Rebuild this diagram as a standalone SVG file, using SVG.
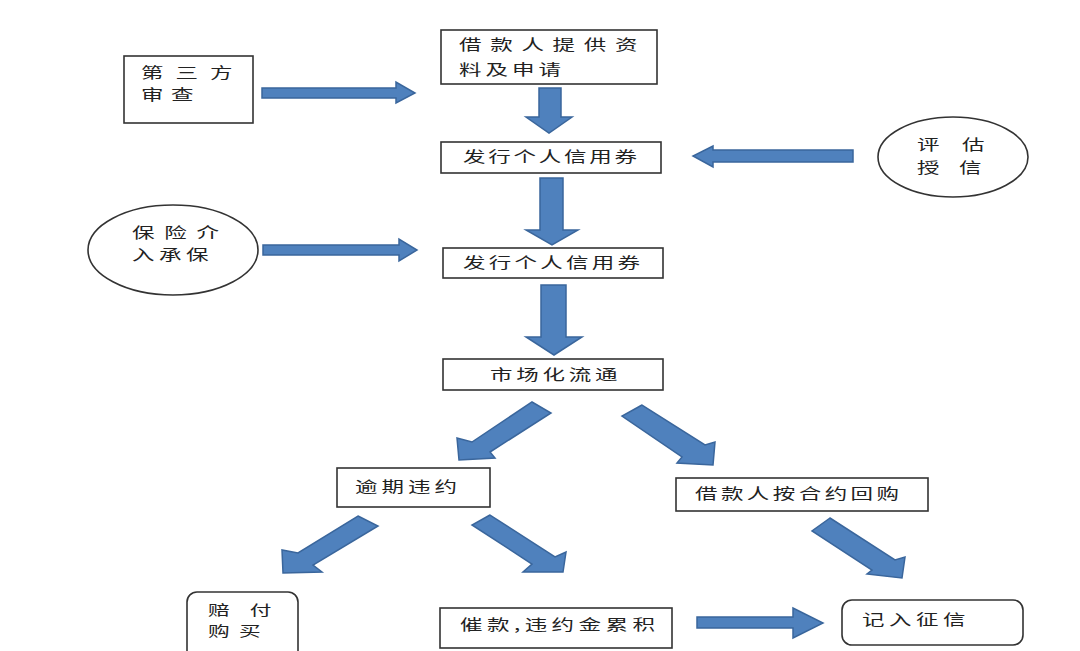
<svg xmlns="http://www.w3.org/2000/svg" width="1080" height="651" viewBox="0 0 1080 651">
<style>
.box{fill:#fff;stroke:#333;stroke-width:1.6}
.arr{fill:#4f81bd;stroke:#3a669c;stroke-width:1.5;stroke-linejoin:miter}
.t{font-family:"Noto Sans CJK SC","Noto Sans",sans-serif;font-size:15px;fill:#222}
.s{font-size:14px}
</style>
<rect width="1080" height="651" fill="#fff"/>
<g id="connectors">
<polygon class="arr" points="262,88 396,88 396,82 415,93 396,103 396,98 262,98"/>
<polygon class="arr" points="853,150 713,150 713,146 693,156 713,167 713,162 853,162"/>
<polygon class="arr" points="263,245 399,245 399,239 417,250 399,261 399,255 263,255"/>
<polygon class="arr" points="697,617 793,617 793,608 823,623 793,638 793,628 697,628"/>
<polygon class="arr" points="539,88 561,88 561,117 572,117 549,133 526,117 539,117"/>
<polygon class="arr" points="540,178 563,178 563,230 578,230 552,245 526,230 540,230"/>
<polygon class="arr" points="541,285 566,285 566,337 582,337 554,355 526,337 541,337"/>
<polygon class="arr" points="532,402 551,413 490,452 495,458 459,460 457,438 472,442"/>
<polygon class="arr" points="642,405 622,416 682,457 677,463 713,465 715,442 705,445"/>
<polygon class="arr" points="358,516 378,526 313,565 322,572 283,573 282,550 298,553"/>
<polygon class="arr" points="490,515 472,525 532,564 523,572 563,572 566,552 555,557"/>
<polygon class="arr" points="830,518 812,531 872,570 867,574 902,578 905,557 895,560"/>
</g>
<g id="n-third-party">
<rect class="box" x="124" y="56" width="129" height="67"/>
<text class="t" transform="translate(141,78) scale(1.5,1)" textLength="61" lengthAdjust="spacing">第 三 方</text>
<text class="t" transform="translate(141,100) scale(1.5,1)" textLength="35" lengthAdjust="spacing">审查</text>
</g>
<g id="n-apply">
<rect class="box" x="441" y="30" width="216" height="54"/>
<text class="t" transform="translate(459,50) scale(1.5,1)" textLength="119" lengthAdjust="spacing">借款人提供资</text>
<text class="t" transform="translate(459,75) scale(1.5,1)" textLength="68" lengthAdjust="spacing">料及申请</text>
</g>
<g id="n-issue1">
<rect class="box" x="441" y="142" width="220" height="31"/>
<text class="t" transform="translate(463,162) scale(1.5,1)" textLength="116" lengthAdjust="spacing">发行个人信用券</text>
</g>
<g id="n-rating">
<ellipse class="box" cx="953" cy="157" rx="75" ry="40"/>
<text class="t" transform="translate(917,150) scale(1.5,1)" textLength="45" lengthAdjust="spacing">评 估</text>
<text class="t" transform="translate(917,173) scale(1.5,1)" textLength="43" lengthAdjust="spacing">授 信</text>
</g>
<g id="n-insurance">
<ellipse class="box" cx="173" cy="250" rx="85" ry="45"/>
<text class="t" transform="translate(132,238) scale(1.5,1)" textLength="58" lengthAdjust="spacing">保 险 介</text>
<text class="t" transform="translate(132,260) scale(1.5,1)" textLength="51" lengthAdjust="spacing">入承保</text>
</g>
<g id="n-issue2">
<rect class="box" x="443" y="248" width="220" height="30"/>
<text class="t" transform="translate(463,268) scale(1.5,1)" textLength="118" lengthAdjust="spacing">发行个人信用券</text>
</g>
<g id="n-market">
<rect class="box" x="443" y="359" width="220" height="31"/>
<text class="t" transform="translate(490,380) scale(1.5,1)" textLength="85" lengthAdjust="spacing">市场化流通</text>
</g>
<g id="n-default">
<rect class="box" x="337" y="468" width="153" height="39"/>
<text class="t" transform="translate(355,492) scale(1.5,1)" textLength="68" lengthAdjust="spacing">逾期违约</text>
</g>
<g id="n-buyback">
<rect class="box" x="676" y="478" width="252" height="33"/>
<text class="t" transform="translate(695,499) scale(1.5,1)" textLength="136" lengthAdjust="spacing">借款人按合约回购</text>
</g>
<g id="n-compensate">
<rect class="box" x="187" y="592" width="111" height="75" rx="10" ry="10"/>
<text class="t s" transform="translate(208,615) scale(1.55,1)" textLength="41" lengthAdjust="spacing">赔 付</text>
<text class="t s" transform="translate(208,636) scale(1.55,1)" textLength="34" lengthAdjust="spacing">购买</text>
</g>
<g id="n-collect">
<rect class="box" x="440" y="608" width="232" height="40"/>
<text class="t" transform="translate(460,630) scale(1.5,1)" textLength="130" lengthAdjust="spacing">催款,违约金累积</text>
</g>
<g id="n-credit">
<rect class="box" x="842" y="600" width="181" height="45" rx="10" ry="10"/>
<text class="t" transform="translate(862,625) scale(1.5,1)" textLength="69" lengthAdjust="spacing">记入征信</text>
</g>
</svg>
